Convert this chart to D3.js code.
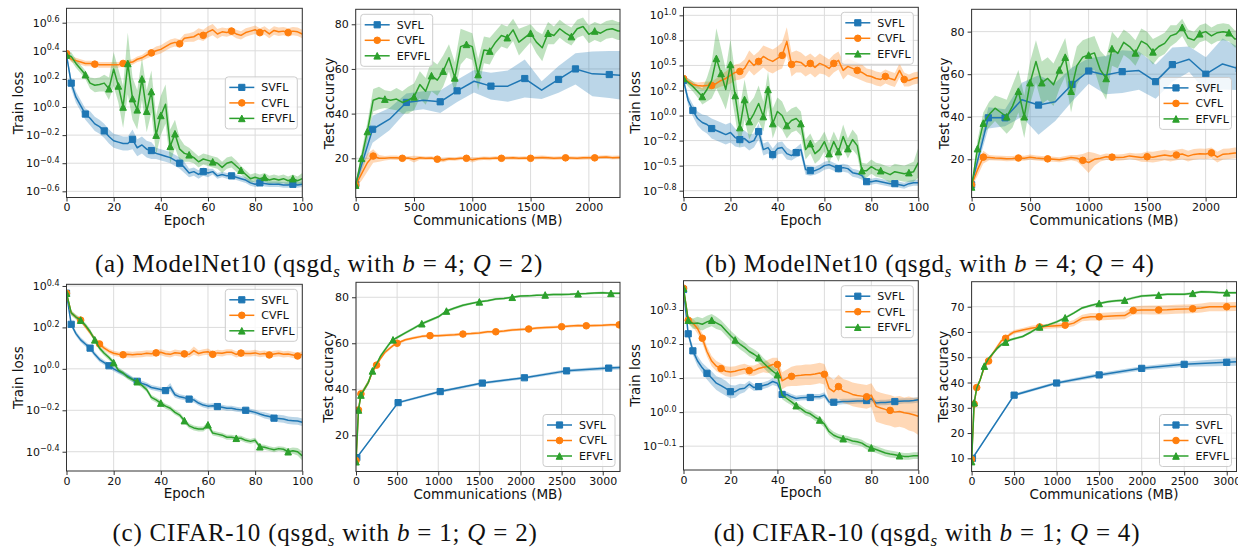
<!DOCTYPE html>
<html>
<head>
<meta charset="utf-8">
<script src="https://cdn.jsdelivr.net/npm/d3@7"></script>
<style>
  body { margin: 0; background: #fff; }
  svg { display: block; }
  text { white-space: pre; }
</style>
</head>
<body>
<svg width="1238" height="554"></svg>
<script>
// ---------- shared axes values ----------
const methods = ["SVFL", "CVFL", "EFVFL"];
const epochs = [0,2,4,6,8,10,12,14,16,18,20,22,24,26,28,30,32,34,36,38,40,42,44,46,48,50,
  52,54,56,58,60,62,64,66,68,70,72,74,76,78,80,82,84,86,88,90,92,94,96,98,100];
const commAB = [0,50,100,150,200,250,300,350,400,450,500,550,600,650,700,750,800,850,900,950,
  1000,1050,1100,1150,1200,1250,1300,1350,1400,1450,1500,1550,1600,1650,1700,1750,1800,1850,
  1900,1950,2000,2050,2100,2150,2200,2250,2300];
const commCD = [0,30,60,100,150,200,250,300,350,400,450,500,600,700,800,900,1000,1100,1200,1300,
  1400,1500,1600,1700,1800,1900,2000,2100,2200,2300,2400,2500,2600,2700,2800,2900,3000,3100,3200,3300];
const epochTicks = [0,20,40,60,80,100];
const commTicksAB = [0,500,1000,1500,2000];
const commTicksCD = [0,500,1000,1500,2000,2500,3000];

// ---------- (a) ModelNet10, b=4, Q=2 : log10(train loss) ----------
const aLossSVFL = [0.37,0.17,0.07,0.01,-0.05,-0.08,-0.12,-0.14,-0.17,-0.21,
  -0.24,-0.25,-0.26,-0.26,-0.23,-0.29,-0.27,-0.30,-0.31,-0.33,
  -0.34,-0.35,-0.36,-0.38,-0.40,-0.43,-0.47,-0.46,-0.48,-0.46,
  -0.47,-0.46,-0.49,-0.48,-0.49,-0.49,-0.50,-0.51,-0.52,-0.54,
  -0.55,-0.54,-0.545,-0.55,-0.55,-0.55,-0.555,-0.555,-0.55,-0.555,-0.55];
const aLossSVFLsd = [0.02,0.04,0.04,0.04,0.04,0.05,0.05,0.05,0.05,0.05,
  0.05,0.05,0.05,0.05,0.07,0.06,0.06,0.06,0.06,0.04,
  0.04,0.04,0.04,0.04,0.04,0.04,0.03,0.03,0.03,0.03,
  0.03,0.02,0.02,0.02,0.02,0.02,0.02,0.02,0.02,0.02,
  0.02,0.02,0.02,0.02,0.02,0.02,0.02,0.02,0.02,0.02,0.02];
const aLossCVFL = [0.38,0.34,0.33,0.32,0.31,0.31,0.305,0.30,0.30,0.30,
  0.30,0.30,0.31,0.315,0.32,0.34,0.35,0.37,0.385,0.40,
  0.41,0.43,0.45,0.46,0.45,0.49,0.495,0.50,0.52,0.51,
  0.535,0.55,0.52,0.535,0.53,0.54,0.52,0.51,0.53,0.54,
  0.55,0.53,0.545,0.52,0.545,0.535,0.54,0.53,0.54,0.535,0.52];
const aLossCVFLsd = [0.01,0.02,0.02,0.02,0.02,0.02,0.02,0.02,0.02,0.02,
  0.02,0.02,0.02,0.02,0.02,0.02,0.02,0.025,0.025,0.03,
  0.03,0.03,0.03,0.03,0.03,0.03,0.03,0.035,0.04,0.04,
  0.04,0.04,0.035,0.03,0.03,0.03,0.03,0.03,0.03,0.03,
  0.03,0.03,0.03,0.03,0.03,0.03,0.03,0.03,0.03,0.03,0.03];
const aLossEFVFL = [0.37,0.36,0.31,0.27,0.23,0.17,0.155,0.16,0.17,0.13,
  0.27,0.15,0.0,0.31,0.06,-0.02,0.20,-0.03,0.11,-0.20,
  -0.06,0.02,-0.28,-0.19,-0.30,-0.33,-0.34,-0.36,-0.39,-0.37,
  -0.38,-0.39,-0.40,-0.43,-0.40,-0.39,-0.42,-0.45,-0.48,-0.51,
  -0.50,-0.51,-0.50,-0.52,-0.51,-0.52,-0.51,-0.525,-0.51,-0.525,-0.51];
const aLossEFVFLsd = [0.02,0.03,0.03,0.03,0.03,0.04,0.05,0.05,0.06,0.08,
  0.12,0.12,0.15,0.22,0.15,0.14,0.15,0.15,0.15,0.14,
  0.14,0.14,0.12,0.10,0.08,0.06,0.05,0.04,0.04,0.04,
  0.04,0.04,0.04,0.04,0.04,0.04,0.04,0.03,0.03,0.03,
  0.03,0.03,0.03,0.03,0.03,0.03,0.03,0.03,0.03,0.03,0.04];

// (a) test accuracy vs communications (MB)
const aCommSVFL = [0,145,290,435,580,725,870,1015,1160,1305,1450,1595,1740,1885,2030,2175,2320];
const aAccSVFL = [8.5,33,37.5,45,46,45.3,50.2,54.5,52.3,52.3,55.7,50.5,55.3,60,57.8,57.5,57];
const aAccSVFLsd = [1,6,5,4,4,5,5,5,6,7,8.5,4,6,7,10,10.5,11];
const aAccCVFL = [8,13,18,21,20,20,20.3,20.2,20,20.1,
  19.6,20.2,20,20.1,19.6,19.2,19.8,19.7,20,20,
  19.3,19.8,20,19.9,20.1,20,20.1,20.2,20,20.1,
  20,20.3,20.4,20.2,20,20.1,20.2,20.1,20,20.2,
  20.3,20.2,20.5,20.6,20.3,20.4,20.3];
const aAccCVFLsd = [1,3,4,3,1.5,1,1,1,0.8,0.8,
  1.5,0.8,0.8,0.8,0.8,1,0.8,0.8,0.8,0.8,
  1.2,0.8,0.8,0.8,0.8,0.8,0.8,0.8,0.8,0.8,
  0.8,0.8,0.8,0.8,0.8,0.8,0.8,0.8,0.8,0.8,
  0.8,0.8,0.8,0.8,0.8,0.8,0.8];
const aAccEFVFL = [8,20,32,46,47,46.5,46,46.5,45,46,
  47.5,53,50,57,55,59,65,56,70,71,
  70,57.5,68.5,68,72,75,74,77.5,72,74,
  76,72,69.5,76,75,78,76,74.5,78,79,
  75.5,77,76,77.5,78,77,77];
const aAccEFVFLsd = [1,3,4,5,5,4,4,5,5,6,
  6,6,6,7,7,7,6,7,8,6,
  6,7,6,6,5,5,5,5,6,5,
  4,5,6,5,4,4,4,4,4,4,
  4,4,4,4,4,4,4];

// ---------- (b) ModelNet10, b=4, Q=4 ----------
const bLossSVFL = [0.35,0.15,0.05,-0.03,-0.07,-0.09,-0.13,-0.15,-0.17,-0.19,
  -0.17,-0.22,-0.24,-0.23,-0.27,-0.25,-0.16,-0.34,-0.32,-0.39,
  -0.33,-0.32,-0.38,-0.40,-0.37,-0.34,-0.54,-0.55,-0.55,-0.53,
  -0.50,-0.49,-0.51,-0.53,-0.52,-0.53,-0.57,-0.58,-0.60,-0.66,
  -0.66,-0.65,-0.66,-0.67,-0.68,-0.68,-0.69,-0.70,-0.68,-0.67,-0.67];
const bLossSVFLsd = [0.03,0.05,0.06,0.07,0.08,0.09,0.1,0.1,0.1,0.1,
  0.1,0.09,0.08,0.08,0.08,0.07,0.08,0.06,0.06,0.06,
  0.06,0.06,0.06,0.05,0.05,0.06,0.05,0.05,0.04,0.04,
  0.04,0.04,0.04,0.04,0.04,0.04,0.04,0.04,0.04,0.03,
  0.03,0.03,0.03,0.03,0.03,0.03,0.03,0.03,0.03,0.03,0.03];
const bLossCVFL = [0.37,0.34,0.31,0.30,0.295,0.30,0.30,0.32,0.35,0.37,
  0.40,0.43,0.44,0.47,0.55,0.50,0.54,0.59,0.56,0.54,
  0.57,0.60,0.74,0.51,0.54,0.53,0.49,0.52,0.48,0.52,
  0.50,0.47,0.52,0.55,0.45,0.49,0.47,0.45,0.43,0.40,
  0.39,0.37,0.36,0.39,0.37,0.355,0.45,0.36,0.35,0.37,0.38];
const bLossCVFLsd = [0.02,0.03,0.03,0.03,0.04,0.04,0.04,0.05,0.06,0.07,
  0.08,0.08,0.08,0.09,0.1,0.1,0.1,0.11,0.12,0.12,
  0.12,0.13,0.14,0.12,0.11,0.1,0.1,0.1,0.1,0.1,
  0.09,0.09,0.09,0.09,0.09,0.08,0.08,0.08,0.08,0.07,
  0.07,0.07,0.07,0.07,0.07,0.07,0.07,0.07,0.06,0.06,0.06];
const bLossEFVFL = [0.37,0.33,0.29,0.24,0.19,0.26,0.35,0.57,0.42,0.26,
  0.51,0.2,-0.12,0.16,-0.06,0.02,0.12,-0.01,0.26,-0.08,
  0.04,0.0,-0.1,-0.05,-0.03,-0.08,-0.34,-0.28,-0.38,-0.34,
  -0.26,-0.38,-0.26,-0.36,-0.21,-0.33,-0.24,-0.30,-0.55,-0.55,
  -0.51,-0.54,-0.55,-0.57,-0.59,-0.56,-0.57,-0.58,-0.57,-0.56,-0.47];
const bLossEFVFLsd = [0.02,0.04,0.05,0.06,0.08,0.12,0.18,0.3,0.25,0.2,
  0.25,0.22,0.2,0.2,0.18,0.16,0.18,0.15,0.18,0.15,
  0.14,0.14,0.13,0.12,0.12,0.12,0.1,0.1,0.1,0.1,
  0.1,0.1,0.1,0.1,0.12,0.1,0.1,0.1,0.08,0.07,
  0.07,0.07,0.07,0.07,0.08,0.08,0.08,0.08,0.09,0.1,0.15];

const bCommSVFL = [0,143,286,429,572,715,858,1001,1144,1287,1430,1573,1716,1859,2002,2145,2288];
const bAccSVFL = [8,39.5,39.5,48,45.5,47,55.2,61.5,59.6,61.2,61.7,56.5,64.5,67,60,64.8,62.5];
const bAccSVFLsd = [1,5,4,8,14,9,8,6,9,10,9,8,8,6,8,12,10];
const bAccCVFL = [8,15,21,20.8,20.6,20.5,20.3,20.4,20.6,20.5,
  21,20.6,20.4,20.2,20,19.8,20.3,20.8,20.5,19.5,
  18.5,20,20.5,21.2,21,20.8,21,21.6,21.2,20.8,
  21.2,21,21.5,22,21.5,22,22.5,21.5,22.3,22.6,
  22.5,23,21,22.4,22.6,23,23];
const bAccCVFLsd = [1,3,3,1.2,1.2,1.2,1.2,1.2,1.2,1.2,
  1.2,1.2,1.2,1.2,1.2,1.2,1.2,1.2,1.5,3,
  5,3,1.5,1.5,1.5,1.5,1.5,1.5,1.5,2,
  2.5,2.5,2.5,2.5,2.5,2.5,2.5,2.5,2.5,2.5,
  2.5,2.5,2.5,2.5,2.5,2.5,2.5];
const bAccEFVFL = [7,25,37,41,44,42,40,45,52,40,
  56,66,56,58,55,62,68,52,64,68,
  69,70,62,58,72,69.8,75,73,70,75.5,
  74,70.5,73,74.5,78,79,82,77,76,79,
  80,78,79.5,80,79.5,76.5,77];
const bAccEFVFLsd = [1,4,5,6,6,7,8,10,10,10,
  10,10,10,10,10,9,9,10,9,8,
  8,8,9,10,8,7,6,6,6,6,
  6,6,5,5,5,4,4,4,4,4,
  4,4,4,4,4,4,4];

// ---------- (c) CIFAR-10, b=1, Q=2 ----------
const cLossSVFL = [0.365,0.215,0.17,0.14,0.12,0.10,0.07,0.045,0.03,0.015,
  0.0,-0.012,-0.022,-0.035,-0.05,-0.06,-0.07,-0.078,-0.09,-0.095,
  -0.10,-0.105,-0.088,-0.125,-0.135,-0.14,-0.146,-0.15,-0.165,-0.175,
  -0.18,-0.178,-0.182,-0.185,-0.19,-0.19,-0.195,-0.198,-0.20,-0.205,
  -0.21,-0.218,-0.225,-0.23,-0.238,-0.24,-0.242,-0.248,-0.25,-0.252,-0.258];
const cLossSVFLsd = [0.005,0.012,0.012,0.012,0.012,0.012,0.012,0.012,0.012,0.012,
  0.012,0.012,0.012,0.012,0.012,0.012,0.012,0.012,0.012,0.012,
  0.012,0.012,0.02,0.015,0.012,0.012,0.012,0.012,0.012,0.012,
  0.012,0.012,0.012,0.012,0.012,0.012,0.012,0.012,0.012,0.012,
  0.012,0.012,0.015,0.015,0.015,0.018,0.018,0.018,0.018,0.018,0.018];
const cLossCVFL = [0.365,0.27,0.25,0.235,0.205,0.175,0.145,0.12,0.10,0.085,
  0.075,0.07,0.068,0.07,0.068,0.07,0.071,0.075,0.073,0.077,
  0.08,0.073,0.07,0.078,0.075,0.072,0.07,0.088,0.074,0.08,
  0.083,0.07,0.077,0.075,0.08,0.08,0.07,0.076,0.074,0.074,
  0.077,0.071,0.074,0.067,0.072,0.075,0.07,0.072,0.067,0.062,0.07];
const cLossCVFLsd = [0.005,0.01,0.01,0.01,0.01,0.01,0.01,0.012,0.012,0.012,
  0.012,0.012,0.015,0.015,0.015,0.015,0.015,0.015,0.015,0.015,
  0.015,0.015,0.015,0.015,0.015,0.015,0.015,0.02,0.015,0.015,
  0.015,0.015,0.015,0.015,0.015,0.015,0.015,0.015,0.015,0.015,
  0.015,0.015,0.015,0.015,0.015,0.015,0.015,0.015,0.015,0.015,0.015];
const cLossEFVFL = [0.365,0.27,0.25,0.235,0.21,0.18,0.14,0.10,0.075,0.055,
  0.03,-0.006,-0.02,-0.04,-0.052,-0.062,-0.08,-0.10,-0.138,-0.15,
  -0.165,-0.18,-0.19,-0.21,-0.223,-0.25,-0.275,-0.285,-0.29,-0.29,
  -0.27,-0.31,-0.315,-0.32,-0.33,-0.33,-0.335,-0.335,-0.345,-0.35,
  -0.345,-0.376,-0.378,-0.385,-0.39,-0.385,-0.388,-0.40,-0.395,-0.40,-0.42];
const cLossEFVFLsd = [0.005,0.012,0.012,0.012,0.012,0.012,0.012,0.012,0.012,0.012,
  0.012,0.012,0.012,0.012,0.012,0.012,0.012,0.012,0.012,0.012,
  0.012,0.012,0.012,0.012,0.012,0.012,0.012,0.012,0.012,0.012,
  0.015,0.012,0.012,0.012,0.012,0.012,0.012,0.012,0.012,0.012,
  0.012,0.012,0.012,0.012,0.012,0.012,0.012,0.015,0.015,0.018,0.022];

const cCommSVFL = [10,512,1024,1536,2048,2560,3072,3584];
const cAccSVFL = [10.3,34.2,39,42.7,45,48,49.2,50];
const cAccSVFLsd = [0.5,0.5,0.6,0.6,0.6,0.7,0.8,0.8];
const cAccCVFL = [9,31,38,40,43,47.5,50.5,53.5,56,57.5,
  59,60,61.5,62.3,63,63.3,63.3,63.5,63.7,64,
  64.2,64.5,65,65,65.3,65.8,66,66.2,66.6,66.8,
  67,67.2,67.5,67.7,67.6,67.7,67.8,68,68,68];
const cAccCVFLsd = [0.5,1,1,1,1,1,0.8,0.8,0.8,0.8,
  0.6,0.6,0.6,0.6,0.6,0.6,0.6,0.6,0.6,0.6,
  0.6,0.6,0.6,0.6,0.6,0.6,0.6,0.6,0.6,0.6,
  0.6,0.6,0.6,0.6,0.6,0.6,0.6,0.6,0.6,0.6];
const cAccEFVFL = [8.5,31,37.5,40,43,48,51,54.5,57,59.5,
  61.5,62.5,64.5,66.5,68.5,70,71.5,74,75.3,76.5,
  77.3,78,78.5,79.2,79.5,80,80.5,80.6,80.9,81,
  81.2,81.2,81.3,81.5,81.6,81.8,82,81.7,81.7,81.7];
const cAccEFVFLsd = [0.5,1,1,1,1,1,0.8,0.8,0.8,0.8,
  0.6,0.6,0.6,0.6,0.6,0.6,0.6,0.6,0.6,0.6,
  0.5,0.5,0.5,0.5,0.5,0.5,0.5,0.5,0.5,0.5,
  0.5,0.5,0.5,0.5,0.5,0.5,0.5,0.5,0.5,0.5];

// ---------- (d) CIFAR-10, b=1, Q=4 ----------
const dLossSVFL = [0.36,0.23,0.18,0.15,0.13,0.114,0.10,0.085,0.078,0.07,
  0.06,0.06,0.068,0.07,0.082,0.072,0.075,0.078,0.082,0.09,
  0.085,0.052,0.052,0.045,0.04,0.042,0.043,0.043,0.045,0.045,
  0.05,0.03,0.029,0.03,0.031,0.031,0.032,0.033,0.033,0.034,
  0.039,0.027,0.028,0.028,0.03,0.031,0.032,0.033,0.033,0.034,0.036];
const dLossSVFLsd = [0.005,0.01,0.012,0.015,0.015,0.018,0.02,0.02,0.022,0.022,
  0.02,0.018,0.015,0.012,0.01,0.01,0.01,0.01,0.01,0.01,
  0.01,0.008,0.008,0.008,0.008,0.008,0.008,0.008,0.008,0.008,
  0.008,0.008,0.008,0.008,0.008,0.008,0.008,0.008,0.008,0.008,
  0.008,0.008,0.008,0.008,0.008,0.008,0.008,0.008,0.008,0.008,0.008];
const dLossCVFL = [0.364,0.27,0.262,0.245,0.217,0.178,0.15,0.135,0.128,0.12,
  0.118,0.12,0.124,0.127,0.122,0.122,0.128,0.132,0.134,0.14,
  0.14,0.092,0.10,0.105,0.107,0.108,0.11,0.11,0.112,0.115,
  0.111,0.07,0.06,0.075,0.062,0.058,0.052,0.049,0.047,0.045,
  0.05,0.017,0.012,0.008,0.005,0.0,0.002,-0.002,-0.004,-0.008,-0.012];
const dLossCVFLsd = [0.005,0.01,0.012,0.015,0.015,0.015,0.015,0.015,0.015,0.015,
  0.015,0.015,0.015,0.015,0.015,0.015,0.015,0.015,0.02,0.02,
  0.02,0.025,0.025,0.028,0.03,0.03,0.03,0.03,0.03,0.03,
  0.03,0.035,0.035,0.035,0.035,0.035,0.035,0.035,0.035,0.035,
  0.035,0.045,0.045,0.045,0.045,0.045,0.045,0.045,0.05,0.05,0.055];
const dLossEFVFL = [0.364,0.27,0.26,0.262,0.258,0.265,0.27,0.262,0.255,0.24,
  0.225,0.212,0.2,0.19,0.178,0.17,0.16,0.145,0.132,0.12,
  0.11,0.05,0.04,0.03,0.019,0.01,0.0,-0.005,-0.015,-0.023,
  -0.035,-0.057,-0.068,-0.074,-0.078,-0.08,-0.085,-0.087,-0.091,-0.1,
  -0.105,-0.11,-0.115,-0.12,-0.123,-0.125,-0.128,-0.13,-0.13,-0.128,-0.128];
const dLossEFVFLsd = [0.005,0.01,0.015,0.018,0.018,0.018,0.018,0.018,0.015,0.015,
  0.015,0.015,0.015,0.015,0.015,0.015,0.015,0.015,0.015,0.015,
  0.015,0.012,0.012,0.01,0.01,0.01,0.01,0.01,0.01,0.01,
  0.01,0.01,0.01,0.01,0.01,0.01,0.01,0.01,0.01,0.01,
  0.01,0.01,0.01,0.01,0.01,0.01,0.01,0.01,0.01,0.01,0.01];

const dCommSVFL = [10,500,1000,1500,2000,2500,3000,3500];
const dAccSVFL = [10,35,39.8,43,45.6,47.2,48,48.8];
const dAccSVFLsd = [0.5,0.6,0.6,0.8,0.8,1,1.5,1.8];
const dAccCVFL = [9.6,31.5,38,41,46,48.5,51.5,54,56.5,57.5,
  59,60,60.8,61.5,62,62.3,62.5,62.7,63.5,65.5,
  66,66,66.2,66.4,66.5,68.5,68.7,68.7,68.7,68.8,
  69,69.1,69.2,69.5,70,70,70,70.1,70.1,70.1];
const dAccCVFLsd = [0.5,0.8,0.8,0.8,0.8,0.8,0.8,0.8,0.8,0.8,
  0.8,0.8,0.8,1,1,1,1,1,1.2,1.3,
  1.5,1.5,1.5,1.5,1.5,1.6,1.7,1.8,1.8,1.8,
  1.8,1.8,1.8,1.8,1.8,1.8,1.8,1.8,1.8,1.8];
const dAccEFVFL = [8.7,32,37.7,41,46.5,49.5,51.5,53.5,55,56,
  56.8,57.3,58.2,60,62,62.8,64,65.6,67.5,69.5,
  70.5,71.3,72,72.4,72.6,73.5,74.2,74.4,74.6,74.9,
  74.9,74.9,75.3,75.9,75.8,75.6,75.5,75.5,75.5,75.5];
const dAccEFVFLsd = [0.5,0.8,0.8,0.8,0.6,0.6,0.6,0.6,0.6,0.6,
  0.5,0.5,0.5,0.5,0.5,0.5,0.5,0.5,0.5,0.5,
  0.5,0.5,0.5,0.5,0.5,0.5,0.5,0.5,0.5,0.5,
  0.5,0.5,0.5,0.5,0.5,0.5,0.5,0.5,0.5,0.5];

// log-axis tick exponents and their printed labels
const aLossTicks = [-0.6,-0.4,-0.2,0,0.2,0.4,0.6];
const aLossTickLabels = ["\u22120.6","\u22120.4","\u22120.2","0.0","0.2","0.4","0.6"];
const bLossTicks = [-0.75,-0.5,-0.25,0,0.25,0.5,0.75,1.0];
const bLossTickLabels = ["\u22120.8","\u22120.5","\u22120.2","0.0","0.2","0.5","0.8","1.0"];
const cLossTicks = [-0.4,-0.2,0,0.2,0.4];
const cLossTickLabels = ["\u22120.4","\u22120.2","0.0","0.2","0.4"];
const dLossTicks = [-0.1,0,0.1,0.2,0.3];
const dLossTickLabels = ["\u22120.1","0.0","0.1","0.2","0.3"];
const accTicks = [20,40,60,80];
const accTicksD = [10,20,30,40,50,60,70];

// captions
const capLetters = ["a","b","c","d"];
const capDatasets = ["ModelNet10","ModelNet10","CIFAR-10","CIFAR-10"];
const capBits = [4,4,1,1];
const capQ = [2,4,2,4];

// ---------- styling ----------
const colors = { SVFL: "#1f77b4", CVFL: "#ff7f0e", EFVFL: "#2ca02c" };
const shapes = { SVFL: "square", CVFL: "circle", EFVFL: "triangle" };
const FONT = "'DejaVu Sans', sans-serif";

function ser(x, ys) { return methods.map((m, i) => ({ name: m, x: x[i], y: ys[i][0], sd: ys[i][1] })); }

const panels = [
  { id: "aL", box: { L: 66.5, T: 8.3, R: 302.3, B: 197.5 }, xdom: [0, 100], ydom: [-0.644, 0.7025],
    xticks: epochTicks, yticks: aLossTicks, ylabels: aLossTickLabels, xlabel: "Epoch", ylabel: "Train loss", ylabX: 18, legend: "center right",
    series: ser([epochs, epochs, epochs], [[aLossSVFL, aLossSVFLsd], [aLossCVFL, aLossCVFLsd], [aLossEFVFL, aLossEFVFLsd]]) },
  { id: "aA", box: { L: 355.7, T: 9.3, R: 620, B: 197.5 }, xdom: [0, 2267], ydom: [2.45, 86.7],
    xticks: commTicksAB, yticks: accTicks, xlabel: "Communications (MB)", ylabel: "Test accuracy", ylabX: 329, legend: "upper left",
    series: ser([aCommSVFL, commAB, commAB], [[aAccSVFL, aAccSVFLsd], [aAccCVFL, aAccCVFLsd], [aAccEFVFL, aAccEFVFLsd]]) },
  { id: "bL", box: { L: 683.5, T: 7.3, R: 918.3, B: 197.5 }, xdom: [0, 100], ydom: [-0.818, 1.08],
    xticks: epochTicks, yticks: bLossTicks, ylabels: bLossTickLabels, xlabel: "Epoch", ylabel: "Train loss", ylabX: 635, legend: "upper right",
    series: ser([epochs, epochs, epochs], [[bLossSVFL, bLossSVFLsd], [bLossCVFL, bLossCVFLsd], [bLossEFVFL, bLossEFVFLsd]]) },
  { id: "bA", box: { L: 971.6, T: 9.3, R: 1236.5, B: 197.5 }, xdom: [0, 2264], ydom: [2.04, 90.5],
    xticks: commTicksAB, yticks: accTicks, xlabel: "Communications (MB)", ylabel: "Test accuracy", ylabX: 944, legend: "center right",
    series: ser([bCommSVFL, commAB, commAB], [[bAccSVFL, bAccSVFLsd], [bAccCVFL, bAccCVFLsd], [bAccEFVFL, bAccEFVFLsd]]) },
  { id: "cL", box: { L: 66.5, T: 284.3, R: 302.3, B: 471 }, xdom: [0, 100], ydom: [-0.493, 0.408],
    xticks: epochTicks, yticks: cLossTicks, ylabels: cLossTickLabels, xlabel: "Epoch", ylabel: "Train loss", ylabX: 18, legend: "upper right",
    series: ser([epochs, epochs, epochs], [[cLossSVFL, cLossSVFLsd], [cLossCVFL, cLossCVFLsd], [cLossEFVFL, cLossEFVFLsd]]) },
  { id: "cA", box: { L: 356, T: 282.3, R: 620, B: 471.5 }, xdom: [0, 3210], ydom: [4.26, 86.5],
    xticks: commTicksCD, yticks: accTicks, xlabel: "Communications (MB)", ylabel: "Test accuracy", ylabX: 328, legend: "lower right",
    series: ser([cCommSVFL, commCD, commCD], [[cAccSVFL, cAccSVFLsd], [cAccCVFL, cAccCVFLsd], [cAccEFVFL, cAccEFVFLsd]]) },
  { id: "dL", box: { L: 683.5, T: 280.7, R: 918.3, B: 470 }, xdom: [0, 100], ydom: [-0.17, 0.386],
    xticks: epochTicks, yticks: dLossTicks, ylabels: dLossTickLabels, xlabel: "Epoch", ylabel: "Train loss", ylabX: 635.5, legend: "upper right",
    series: ser([epochs, epochs, epochs], [[dLossSVFL, dLossSVFLsd], [dLossCVFL, dLossCVFLsd], [dLossEFVFL, dLossEFVFLsd]]) },
  { id: "dA", box: { L: 971.6, T: 281.7, R: 1236.5, B: 471.5 }, xdom: [0, 3115], ydom: [4.78, 79.9],
    xticks: commTicksCD, yticks: accTicksD, xlabel: "Communications (MB)", ylabel: "Test accuracy", ylabX: 943.5, legend: "lower right",
    series: ser([dCommSVFL, commCD, commCD], [[dAccSVFL, dAccSVFLsd], [dAccCVFL, dAccCVFLsd], [dAccEFVFL, dAccEFVFLsd]]) }
];

const svg = d3.select("svg");
const defs = svg.append("defs");

function markerD(shape, r) {
  if (shape === "square") return `M${-r},${-r}h${2 * r}v${2 * r}h${-2 * r}Z`;
  if (shape === "circle") return `M${r},0A${r},${r} 0 1,1 ${-r},0A${r},${r} 0 1,1 ${r},0Z`;
  return `M0,${-r}L${r},${r}L${-r},${r}Z`;
}

// matplotlib-like markevery=0.1 (spacing along the drawn line, in pixels)
function markEvery(pts, step) {
  const cum = [0];
  for (let i = 1; i < pts.length; i++)
    cum.push(cum[i - 1] + Math.hypot(pts[i][0] - pts[i - 1][0], pts[i][1] - pts[i - 1][1]));
  const out = new Set();
  for (let t = 0; t < cum[cum.length - 1]; t += step) {
    let best = 0;
    for (let i = 1; i < cum.length; i++) if (Math.abs(cum[i] - t) < Math.abs(cum[best] - t)) best = i;
    out.add(best);
  }
  return [...out];
}

function drawPanel(p) {
  const { L, T, R, B } = p.box;
  const x = d3.scaleLinear().domain(p.xdom).range([L, R]);
  const y = d3.scaleLinear().domain(p.ydom).range([B, T]);
  const g = svg.append("g");
  const cid = "clip-" + p.id;
  defs.append("clipPath").attr("id", cid).append("rect")
    .attr("x", L).attr("y", T).attr("width", R - L).attr("height", B - T);

  // grid
  g.append("g").selectAll("line").data(p.xticks).join("line")
    .attr("x1", d => x(d)).attr("x2", d => x(d)).attr("y1", T).attr("y2", B)
    .attr("stroke", "#dcdcdc").attr("stroke-width", 1);
  g.append("g").selectAll("line").data(p.yticks).join("line")
    .attr("y1", d => y(d)).attr("y2", d => y(d)).attr("x1", L).attr("x2", R)
    .attr("stroke", "#dcdcdc").attr("stroke-width", 1);

  const plot = g.append("g").attr("clip-path", `url(#${cid})`);
  // bands first, lines on top
  p.series.forEach(s => {
    const idx = d3.range(s.y.length);
    plot.append("path")
      .attr("d", d3.area().x(i => x(s.x[i])).y0(i => y(s.y[i] - s.sd[i])).y1(i => y(s.y[i] + s.sd[i]))(idx))
      .attr("fill", colors[s.name]).attr("fill-opacity", 0.3).attr("stroke", "none");
  });
  const diag = Math.hypot(R - L, B - T);
  p.series.forEach(s => {
    const pts = s.y.map((v, i) => [x(s.x[i]), y(v)]);
    plot.append("path").attr("d", d3.line()(pts))
      .attr("fill", "none").attr("stroke", colors[s.name]).attr("stroke-width", 1.5)
      .attr("stroke-linejoin", "round");
    plot.append("g").selectAll("path").data(markEvery(pts, 0.1 * diag)).join("path")
      .attr("transform", i => `translate(${pts[i][0]},${pts[i][1]})`)
      .attr("d", markerD(shapes[s.name], s.name === "SVFL" ? 3.1 : 3.3))
      .attr("fill", colors[s.name]).attr("stroke", colors[s.name]).attr("stroke-width", 1);
  });

  // frame
  g.append("rect").attr("x", L).attr("y", T).attr("width", R - L).attr("height", B - T)
    .attr("fill", "none").attr("stroke", "#333").attr("stroke-width", 1);

  // axes
  const xa = g.append("g").attr("transform", `translate(0,${B})`)
    .call(d3.axisBottom(x).tickValues(p.xticks).tickSize(4).tickPadding(2).tickFormat(d3.format("d")));
  const ya = g.append("g").attr("transform", `translate(${L},0)`)
    .call(d3.axisLeft(y).tickValues(p.yticks).tickSize(4).tickPadding(3)
      .tickFormat(p.ylabels ? () => "" : d3.format("d")));
  [xa, ya].forEach(a => {
    a.select(".domain").remove();
    a.attr("font-family", FONT).attr("font-size", 11).attr("color", "#333");
    a.selectAll("text").attr("fill", "#111");
  });
  if (p.ylabels) {
    ya.selectAll(".tick text").each(function (d, i) {
      const t = d3.select(this);
      t.append("tspan").text("10");
      t.append("tspan").attr("dy", "-0.55em").attr("font-size", 8).text(p.ylabels[i]);
    });
  }

  // axis titles
  g.append("text").attr("x", (L + R) / 2).attr("y", B + 27).attr("text-anchor", "middle")
    .attr("font-family", FONT).attr("font-size", 13.5).attr("fill", "#111").text(p.xlabel);
  g.append("text").attr("transform", `translate(${p.ylabX},${(T + B) / 2}) rotate(-90)`)
    .attr("text-anchor", "middle").attr("dy", "0.35em")
    .attr("font-family", FONT).attr("font-size", 13.5).attr("fill", "#111").text(p.ylabel);

  // legend
  const lw = 72, lh = 52, pad = 5;
  let lx = R - pad - lw, ly = T + pad;
  if (p.legend === "upper left") lx = L + pad;
  if (p.legend === "center right") ly = (T + B) / 2 - lh / 2;
  if (p.legend === "lower right") ly = B - pad - lh;
  const lg = g.append("g").attr("transform", `translate(${lx},${ly})`);
  lg.append("rect").attr("width", lw).attr("height", lh).attr("rx", 3)
    .attr("fill", "#fff").attr("fill-opacity", 0.8).attr("stroke", "#cccccc").attr("stroke-width", 1);
  methods.forEach((m, i) => {
    const cy = 10.5 + i * 15.5;
    lg.append("line").attr("x1", 4).attr("x2", 29).attr("y1", cy).attr("y2", cy)
      .attr("stroke", colors[m]).attr("stroke-width", 1.5);
    lg.append("path").attr("transform", `translate(16.5,${cy})`)
      .attr("d", markerD(shapes[m], m === "SVFL" ? 3.1 : 3.3))
      .attr("fill", colors[m]).attr("stroke", colors[m]).attr("stroke-width", 1);
    lg.append("text").attr("x", 36).attr("y", cy).attr("dy", "0.36em")
      .attr("font-family", FONT).attr("font-size", 11).attr("fill", "#111").text(m);
  });
}

panels.forEach(drawPanel);

// sub-figure captions
const capPos = [[319, 272], [930, 272], [325, 541], [927, 541]];
capLetters.forEach((c, i) => {
  const t = svg.append("text").attr("x", capPos[i][0]).attr("y", capPos[i][1])
    .attr("text-anchor", "middle").attr("font-family", "'Liberation Serif', 'DejaVu Serif', serif")
    .attr("font-size", 25).attr("letter-spacing", 0.8).attr("fill", "#111");
  t.append("tspan").text(`(${c}) ${capDatasets[i]} (qsgd`);
  t.append("tspan").attr("font-size", 17).attr("dy", 5).attr("font-style", "italic").text("s");
  t.append("tspan").attr("dy", -5).text(" with ");
  t.append("tspan").attr("font-style", "italic").text("b");
  t.append("tspan").text(` = ${capBits[i]}; `);
  t.append("tspan").attr("font-style", "italic").text("Q");
  t.append("tspan").text(` = ${capQ[i]})`);
});
</script>
</body>
</html>
